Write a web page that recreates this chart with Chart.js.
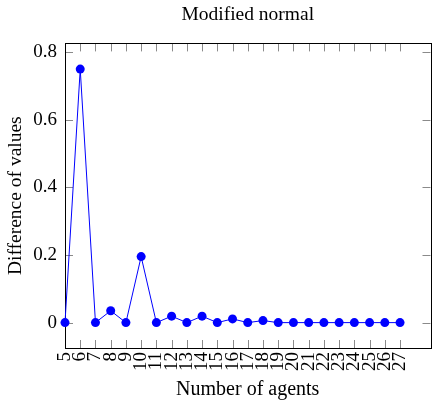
<!DOCTYPE html>
<html>
<head>
<meta charset="utf-8">
<script src="https://cdn.jsdelivr.net/npm/chart.js@4.4.1/dist/chart.umd.min.js"></script>
<style>
  html, body { margin: 0; padding: 0; background: #fff; }
  #wrap { width: 435px; height: 406px; }
</style>
</head>
<body>
<div id="wrap"><canvas id="grafico"></canvas></div>
<script>
// dados
const numAgentes = [5, 6, 7, 8, 9, 10, 11, 12, 13, 14, 15, 16, 17, 18, 19, 20, 21, 22, 23, 24, 25, 26, 27];
const diferencas = [0, 0.749, 0, 0.035, 0, 0.195, 0, 0.019, 0, 0.019, 0, 0.011, 0, 0.006, 0, 0, 0, 0, 0, 0, 0, 0, 0];
const ticksY = [0, 0.2, 0.4, 0.6, 0.8];

const fonte = "'Liberation Serif', 'DejaVu Serif', serif";
Chart.defaults.color = "#000";
Chart.defaults.font.family = fonte;

// moldura com ticks para dentro, estilo pgfplots
const moldura = {
  id: "moldura",
  beforeDatasetsDraw(chart) {
    const { ctx, chartArea: a, scales: { x, y } } = chart;
    const tam = 8;
    ctx.save();
    ctx.lineWidth = 1;
    ctx.strokeStyle = "#8a8a8a";
    ctx.beginPath();
    x.ticks.forEach(t => {
      const px = Math.round(x.getPixelForValue(t.value)) + 0.5;
      ctx.moveTo(px, a.bottom); ctx.lineTo(px, a.bottom - tam);
      ctx.moveTo(px, a.top); ctx.lineTo(px, a.top + tam);
    });
    y.ticks.forEach(t => {
      const py = Math.round(y.getPixelForValue(t.value)) + 0.5;
      ctx.moveTo(a.left, py); ctx.lineTo(a.left + tam, py);
      ctx.moveTo(a.right, py); ctx.lineTo(a.right - tam, py);
    });
    ctx.stroke();
    ctx.strokeStyle = "#000";
    ctx.strokeRect(Math.round(a.left) + 0.5, Math.round(a.top) + 0.5,
      Math.round(a.right - a.left), Math.round(a.bottom - a.top));
    ctx.restore();
  }
};

new Chart(document.getElementById("grafico"), {
  type: "line",
  data: {
    datasets: [{
      label: "Modified normal",
      data: numAgentes.map((n, i) => ({ x: n, y: diferencas[i] })),
      borderColor: "#0000ff",
      backgroundColor: "#0000ff",
      borderWidth: 1,
      pointRadius: 4.5,
      pointHoverRadius: 4.5,
      pointBorderWidth: 0,
      tension: 0,
      clip: false
    }]
  },
  options: {
    responsive: true,
    maintainAspectRatio: false,
    animation: false,
    layout: { padding: { left: 0, right: 2, top: 0, bottom: 0 } },
    plugins: {
      legend: { display: false },
      tooltip: { enabled: false },
      title: {
        display: true,
        text: "Modified normal",
        fullSize: false,
        font: { size: 19.5, weight: "normal", family: fonte },
        padding: { top: 3, bottom: 17 }
      }
    },
    scales: {
      x: {
        type: "linear",
        min: 5,
        max: 29,
        afterBuildTicks: s => { s.ticks = numAgentes.map(v => ({ value: v })); },
        afterFit: s => { s.height = 58; },
        grid: { display: false, drawTicks: false },
        border: { display: false },
        ticks: {
          autoSkip: false,
          minRotation: 90,
          maxRotation: 90,
          padding: 4,
          font: { size: 19 },
          callback: v => String(v)
        },
        title: { display: true, text: "Number of agents", font: { size: 20 }, padding: { top: 4, bottom: 4 } }
      },
      y: {
        min: -0.075,
        max: 0.825,
        afterBuildTicks: s => { s.ticks = ticksY.map(v => ({ value: v })); },
        afterFit: s => { s.width = 65; },
        grid: { display: false, drawTicks: false },
        border: { display: false },
        ticks: {
          padding: 8,
          font: { size: 19 },
          callback: v => String(v)
        },
        title: { display: true, text: "Difference of values", font: { size: 19.5 }, padding: { top: 4, bottom: 4 } }
      }
    }
  },
  plugins: [moldura]
});
</script>
</body>
</html>
